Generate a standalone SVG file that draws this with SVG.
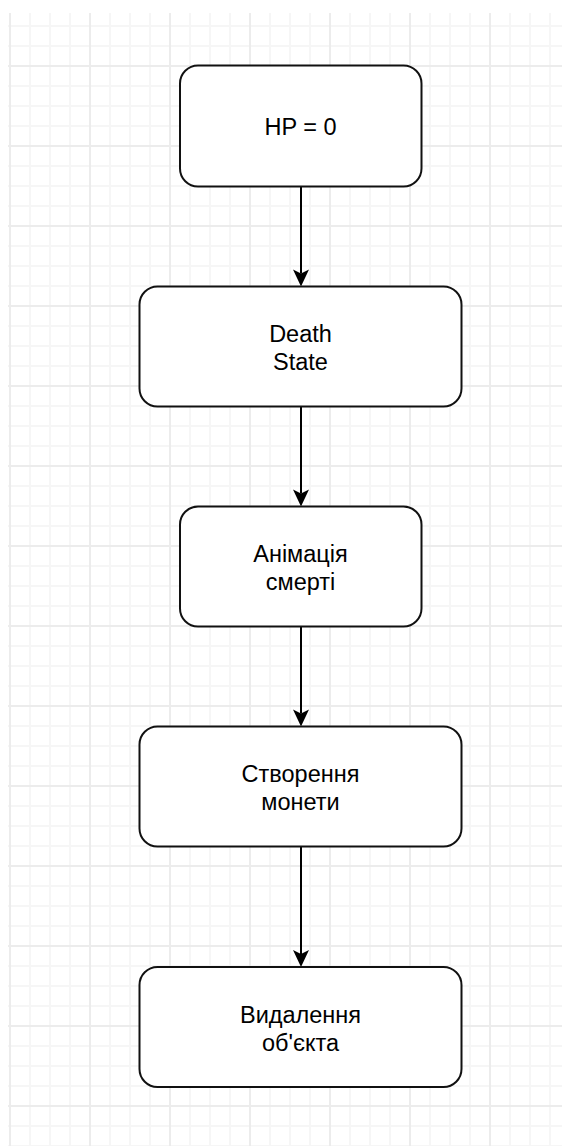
<svg xmlns="http://www.w3.org/2000/svg" width="562" height="1146" viewBox="0 0 562 1146">
  <style>
    .box { fill: #ffffff; stroke: #111111; stroke-width: 2; }
    .lbl { font-family: "Liberation Sans", Arial, Helvetica, sans-serif; font-size: 23.5px; fill: #000000; text-anchor: middle; }
    .edge { stroke: #000000; stroke-width: 2; fill: none; }
  </style>
  <defs>
    <!-- background grid: 20px minor cells, 80px major cells -->
    <pattern id="grid" patternUnits="userSpaceOnUse" x="9" y="-15" width="80" height="80">
      <rect x="20" y="0" width="2" height="80" fill="#f6f6f6"/>
      <rect x="40" y="0" width="2" height="80" fill="#f6f6f6"/>
      <rect x="60" y="0" width="2" height="80" fill="#f6f6f6"/>
      <rect x="0" y="20" width="80" height="2" fill="#f6f6f6"/>
      <rect x="0" y="40" width="80" height="2" fill="#f6f6f6"/>
      <rect x="0" y="60" width="80" height="2" fill="#f6f6f6"/>
      <rect x="0" y="0" width="2" height="80" fill="#ececec"/>
      <rect x="0" y="0" width="80" height="2" fill="#ececec"/>
    </pattern>
    <marker id="arrow" markerUnits="userSpaceOnUse" markerWidth="18" markerHeight="18" refX="4" refY="9" orient="auto" overflow="visible">
      <path d="M17,9 L0,1 L4,9 L0,17 Z" fill="#000000"/>
    </marker>
  </defs>

  <rect x="0" y="0" width="562" height="1146" fill="#ffffff"/>
  <rect x="8" y="13" width="554" height="1133" fill="url(#grid)"/>

  <g id="connectors">
    <line class="edge" x1="301" y1="186.5" x2="301" y2="273.5" marker-end="url(#arrow)"/>
    <line class="edge" x1="301" y1="406.5" x2="301" y2="493.5" marker-end="url(#arrow)"/>
    <line class="edge" x1="301" y1="626.5" x2="301" y2="713.5" marker-end="url(#arrow)"/>
    <line class="edge" x1="301" y1="846.5" x2="301" y2="954" marker-end="url(#arrow)"/>
  </g>

  <g id="node-hp">
    <rect class="box" x="180" y="65.5" width="241.5" height="121" rx="18" ry="18"/>
    <text class="lbl" x="300.5" y="135">HP = 0</text>
  </g>

  <g id="node-death-state">
    <rect class="box" x="139.5" y="286.5" width="322" height="120" rx="18" ry="18"/>
    <text class="lbl" x="300.5" y="341.5">Death</text>
    <text class="lbl" x="300.5" y="369.5">State</text>
  </g>

  <g id="node-animation">
    <rect class="box" x="180" y="506.5" width="241.5" height="120" rx="18" ry="18"/>
    <text class="lbl" x="300.5" y="561.5">Анімація</text>
    <text class="lbl" x="300.5" y="589.5">смерті</text>
  </g>

  <g id="node-coin">
    <rect class="box" x="139.5" y="726.5" width="322" height="120" rx="18" ry="18"/>
    <text class="lbl" x="300.5" y="782">Створення</text>
    <text class="lbl" x="300.5" y="810">монети</text>
  </g>

  <g id="node-remove">
    <rect class="box" x="139.5" y="967" width="322" height="120" rx="18" ry="18"/>
    <text class="lbl" x="300.5" y="1022.5">Видалення</text>
    <text class="lbl" x="300.5" y="1050.5">об'єкта</text>
  </g>
</svg>
